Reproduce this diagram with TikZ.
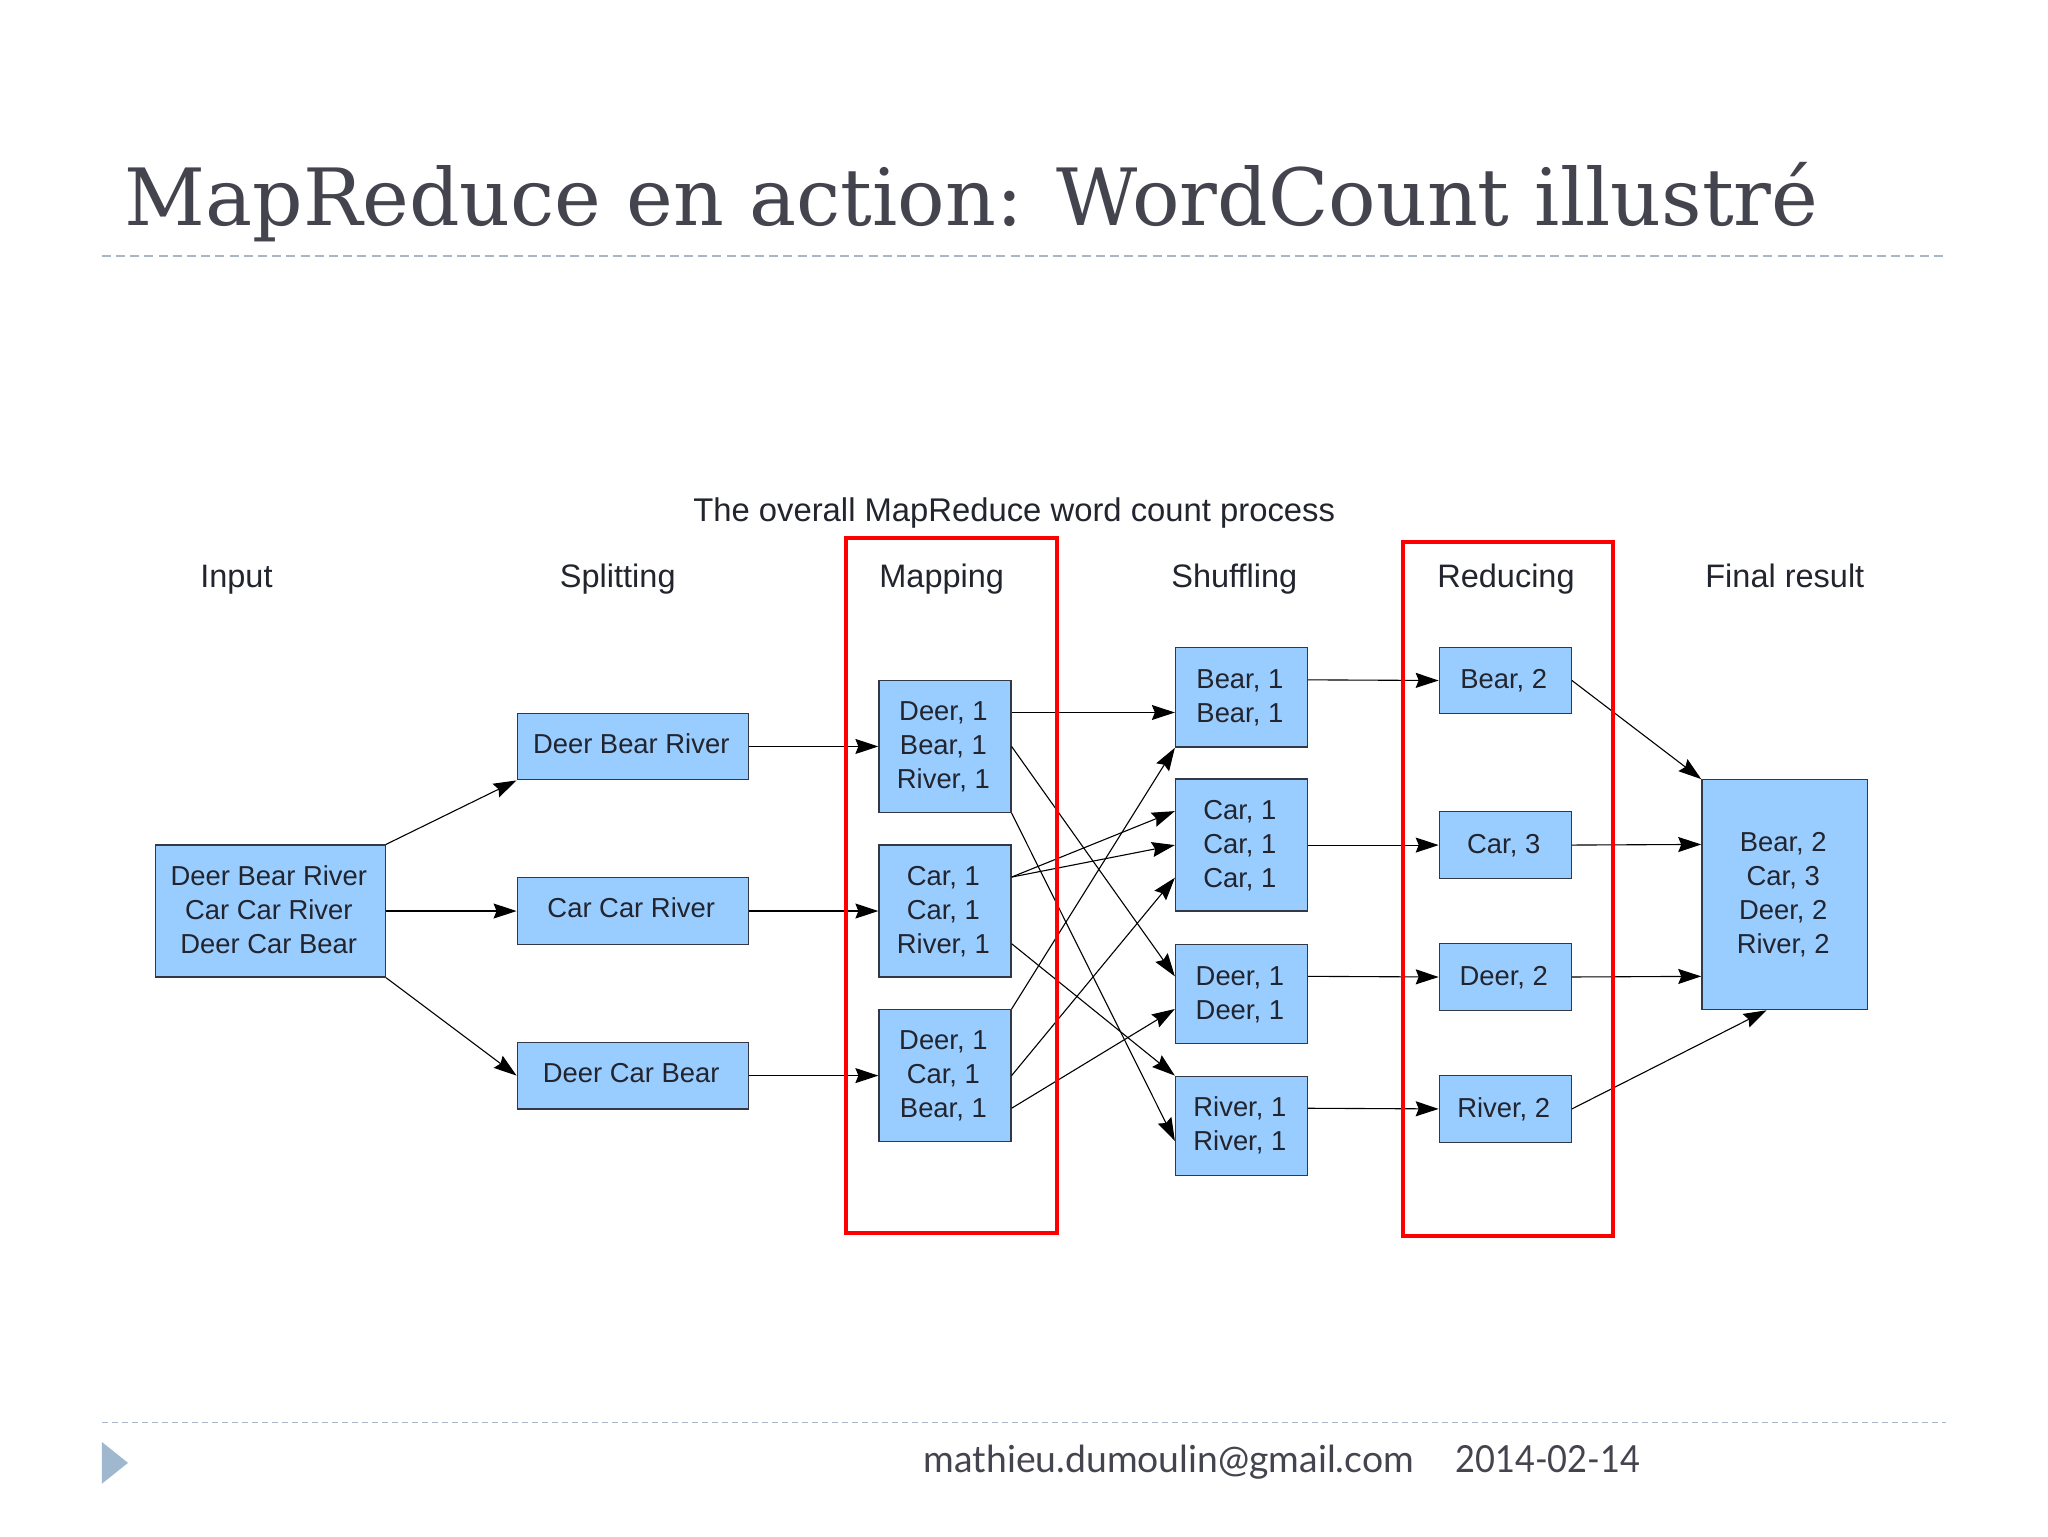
\documentclass[tikz,border=0pt]{standalone}
\usepackage{fontspec}
\setmainfont{Liberation Sans}
\newfontfamily\titlefont{DejaVu Serif}
\newfontfamily\footfont{Lato}
\usetikzlibrary{arrows.meta,calc}
\definecolor{boxblue}{HTML}{99CCFF}
\definecolor{boxedge}{HTML}{343846}
\definecolor{inktext}{HTML}{22242E}
\definecolor{slidegray}{HTML}{44444F}
\definecolor{dashgray}{HTML}{A9B6C6}
\definecolor{markblue}{HTML}{9FB8D0}
\def\uu{0.65306pt}
\newcommand\tl[2][-0.65pt]{\raisebox{#1}[\height][\depth]{\begin{tabular}{@{}c@{}}#2\end{tabular}}\kern1.6pt}
\tikzset{
  x=0.65306pt, y=-0.65306pt,
  bx/.style n args={2}{draw=boxedge, fill=boxblue, line width=0.65pt, inner sep=0pt,
    minimum width=#1*\uu, minimum height=#2*\uu, text=inktext,
    font=\fontsize{13.7}{17}\selectfont},
  redbox/.style n args={2}{draw=red, line width=1.9pt, inner sep=0pt,
    minimum width=#1*\uu, minimum height=#2*\uu},
  heading/.style={anchor=base, text=inktext, font=\fontsize{16.25}{19}\selectfont, inner sep=0pt},
  conn/.style={draw=black, line width=0.55pt, -{Stealth[length=11.5pt,width=7.5pt,inset=1.5pt]}},
  sep/.style={draw=dashgray, line width=0.85pt}
}
\begin{document}
\begin{tikzpicture}
\useasboundingbox (0,0) rectangle (1568,1176);
% slide frame
\node[anchor=base west, inner sep=0pt, text=slidegray, font=\titlefont\fontsize{39.5}{46}\selectfont] (slidetitle) at (95,173) {MapReduce en action: WordCount illustré};
\coordinate (tl) at (78,196); \coordinate (tr) at (1490,196);
\draw[sep, dash pattern=on 4.5pt off 2.6pt] (tl) -- (tr);
\coordinate (bl) at (78,1089); \coordinate (br) at (1490,1089);
\draw[sep, dash pattern=on 3pt off 2pt] (bl) -- (br);
\fill[markblue] (78,1104) -- (98,1120) -- (78,1136) -- cycle;
\node[anchor=base west, inner sep=0pt, text=slidegray, font=\footfont\fontsize{18.65}{22}\selectfont] (mail) at (707,1127) {mathieu.dumoulin@gmail.com};
\node[anchor=base west, inner sep=0pt, xscale=0.92, text=slidegray, font=\footfont\fontsize{18.65}{22}\selectfont] (date) at (1114,1127) {2014-02-14};
% headings
\node[heading, font=\fontsize{16.4}{19}\selectfont] (caption) at (776.5,399) {The overall MapReduce word count process};
\node[heading] (h1) at (181,450) {Input};
\node[heading] (h2) at (473,450) {Splitting};
\node[heading] (h3) at (721,450) {Mapping};
\node[heading] (h4) at (945,450) {Shuffling};
\node[heading] (h5) at (1153,450) {Reducing};
\node[heading] (h6) at (1366.5,450) {Final result};
% boxes
\node[bx={176}{101}] (in) at (207,697.5) {\tl{Deer Bear River\\Car Car River\\Deer Car Bear}};
\node[bx={177}{51}] (s1) at (484.5,571.5) {\tl[0pt]{Deer Bear River}};
\node[bx={177}{51}] (s2) at (484.5,697.5) {\tl[0pt]{Car Car River}};
\node[bx={177}{51}] (s3) at (484.5,823.5) {\tl[0pt]{Deer Car Bear}};
\node[bx={101}{101}] (m1) at (723.5,571.5) {\tl{Deer, 1\\Bear, 1\\River, 1}};
\node[bx={101}{101}] (m2) at (723.5,697.5) {\tl{Car, 1\\Car, 1\\River, 1}};
\node[bx={101}{101}] (m3) at (723.5,823.5) {\tl{Deer, 1\\Car, 1\\Bear, 1}};
\node[bx={101}{76}] (u1) at (950.5,534) {\tl{Bear, 1\\Bear, 1}};
\node[bx={101}{101}] (u2) at (950.5,647) {\tl{Car, 1\\Car, 1\\Car, 1}};
\node[bx={101}{76}] (u3) at (950.5,761) {\tl{Deer, 1\\Deer, 1}};
\node[bx={101}{76}] (u4) at (950.5,862) {\tl{River, 1\\River, 1}};
\node[bx={101}{51}] (r1) at (1152.5,521) {\tl{Bear, 2}};
\node[bx={101}{51}] (r2) at (1152.5,647) {\tl{Car, 3}};
\node[bx={101}{51}] (r3) at (1152.5,748) {\tl{Deer, 2}};
\node[bx={101}{51}] (r4) at (1152.5,849) {\tl{River, 2}};
\node[bx={127}{176}] (fin) at (1366.5,685) {\tl{Bear, 2\\Car, 3\\Deer, 2\\River, 2}};
% connectors
\draw[conn] (in.north east) -- (s1.south west);
\draw[conn] (in.east) -- (s2.west);
\draw[conn] (in.south east) -- (s3.west);
\draw[conn] (s1.east) -- (m1.west);
\draw[conn] (s2.east) -- (m2.west);
\draw[conn] (s3.east) -- (m3.west);
\draw[conn] ($(m1.north east)+(0,25)$) -- ($(u1.north west)+(0,50)$);
\draw[conn] (m1.east) -- ($(u3.north west)+(0,25)$);
\draw[conn] (m1.south east) -- ($(u4.north west)+(0,50)$);
\draw[conn] ($(m2.north east)+(0,25)$) -- ($(u2.north west)+(0,25)$);
\draw[conn] ($(m2.north east)+(0,25)$) -- (u2.west);
\draw[conn] ($(m2.north east)+(0,76)$) -- (u4.north west);
\draw[conn] (m3.north east) -- (u1.south west);
\draw[conn] (m3.east) -- ($(u2.north west)+(0,76)$);
\draw[conn] ($(m3.north east)+(0,76)$) -- ($(u3.north west)+(0,50)$);
\draw[conn] ($(u1.north east)+(0,25)$) -- (r1.west);
\draw[conn] (u2.east) -- (r2.west);
\draw[conn] ($(u3.north east)+(0,25)$) -- (r3.west);
\draw[conn] ($(u4.north east)+(0,25)$) -- (r4.west);
\draw[conn] (r1.east) -- (fin.north west);
\draw[conn] (r2.east) -- ($(fin.north west)+(0,50)$);
\draw[conn] (r3.east) -- ($(fin.north west)+(0,151)$);
\draw[conn] (r4.east) -- ($(fin.south west)+(50,0)$);
% red frames
\node[redbox={161}{532}] (frameA) at (728.5,678) {};
\node[redbox={161}{531}] (frameB) at (1154.5,680.5) {};
\end{tikzpicture}
\end{document}
